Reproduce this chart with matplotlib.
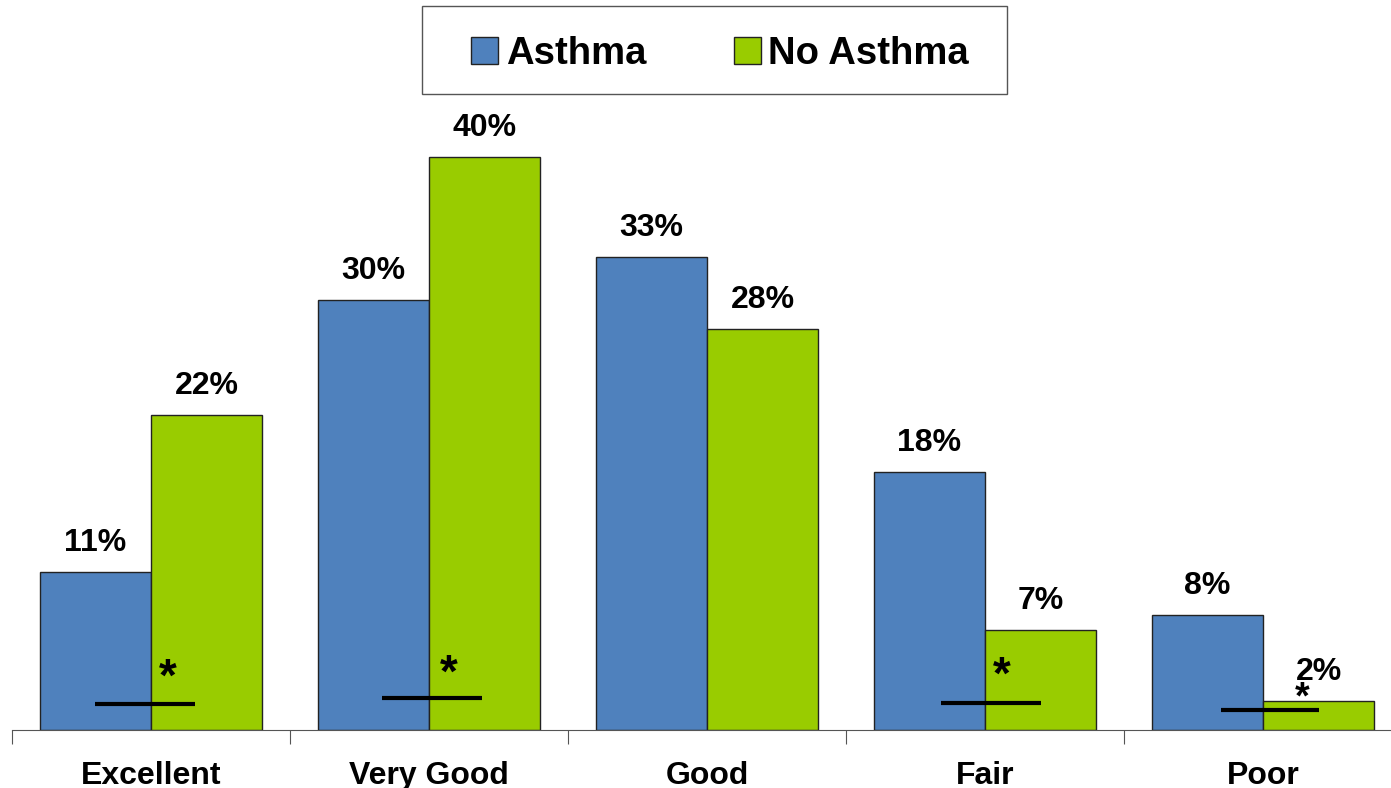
import matplotlib
matplotlib.use("Agg")
import matplotlib.pyplot as plt
from matplotlib.patches import Rectangle
import numpy as np

categories = ["Excellent", "Very Good", "Good", "Fair", "Poor"]
asthma = [11, 30, 33, 18, 8]
no_asthma = [22, 40, 28, 7, 2]
series_names = ["Asthma", "No Asthma"]

# significance marks: (category index, line start, line end, line y, star x, star baseline y, star size)
sig_marks = [
    (0, -0.20, 0.16, 1.8, 0.06, 2.75, 33),
    (1, -0.17, 0.19, 2.2, 0.07, 3.0, 33),
    (3, -0.16, 0.20, 1.9, 0.06, 2.85, 33),
    (4, -0.15, 0.20, 1.4, 0.14, 1.5, 27),
]

BLUE = "#4F81BD"
GREEN = "#99CC00"
FONT = "Liberation Sans"

fig = plt.figure(figsize=(13.91, 7.88), dpi=100)
ax = fig.add_axes([12 / 1391, 58 / 788, 1 - 12 / 1391, 730 / 788])

x = np.arange(len(categories))
w = 0.4
b1 = ax.bar(x - w / 2, asthma, w, color=BLUE, edgecolor="#222222", linewidth=1,
            label=series_names[0])
b2 = ax.bar(x + w / 2, no_asthma, w, color=GREEN, edgecolor="#222222", linewidth=1,
            label=series_names[1])

for bars, vals in [(b1, asthma), (b2, no_asthma)]:
    for r, v in zip(bars, vals):
        ax.annotate(f"{v}%", (r.get_x() + r.get_width() / 2, v), xytext=(0, 10),
                    textcoords="offset points", ha="center", va="bottom",
                    fontsize=23, fontweight="bold", family=FONT)

for i, x0, x1, ly, sx, sy, fs in sig_marks:
    ax.plot([i + x0, i + x1], [ly, ly], color="black", lw=3, solid_capstyle="butt")
    ax.text(i + sx, sy, "*", ha="center", va="baseline", fontsize=fs,
            fontweight="bold", family=FONT)

for s in ["top", "right", "left"]:
    ax.spines[s].set_visible(False)
ax.spines["bottom"].set_color("#555555")
ax.set_yticks([])
ax.set_xticks(np.arange(len(categories) + 1) - 0.5)
ax.set_xticklabels([])
ax.tick_params(axis="x", which="major", length=10, color="#555555")
ax.set_xticks(x, minor=True)
ax.set_xticklabels(categories, minor=True, fontsize=23, fontweight="bold", family=FONT)
ax.tick_params(axis="x", which="minor", length=0, pad=22)
# limits after the ticks, since set_xticks widens the view
ax.set_xlim(-0.5, 4.46)
ax.set_ylim(0, 50.94)

# legend frame drawn by hand so its size matches the original box
fig.patches.append(Rectangle((422 / 1391, 1 - 94 / 788), 585 / 1391, 88 / 788,
                             transform=fig.transFigure, fill=False,
                             edgecolor="#555555", linewidth=1))
fig.legend(handles=[b1, b2], loc="center",
           bbox_to_anchor=(720 / 1391, 1 - 54 / 788), ncol=2,
           prop={"family": FONT, "weight": "bold", "size": 27.5},
           frameon=False, handlelength=0.7, handleheight=0.7, handletextpad=0.2,
           columnspacing=2.3, borderpad=0, borderaxespad=0)

fig.savefig("out.png", dpi=100)
